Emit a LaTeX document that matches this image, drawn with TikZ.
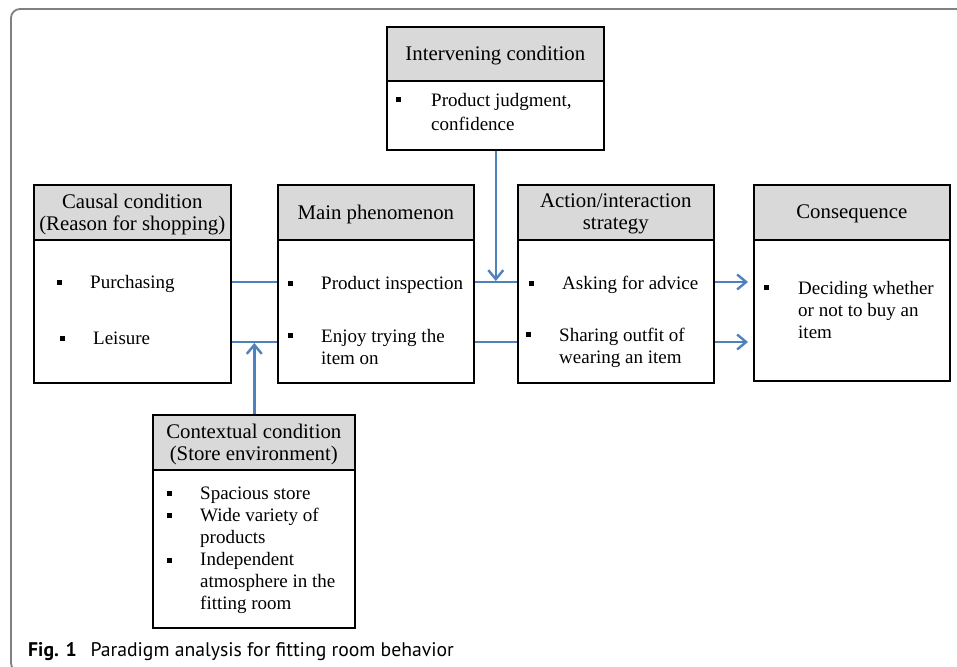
\documentclass[tikz,border=0pt]{standalone}
\usepackage{fontspec}
\setmainfont{Liberation Serif}
\newfontfamily\capfont{PT Sans}
\usetikzlibrary{arrows.meta,calc}
\definecolor{lnblue}{HTML}{4F81BD}
\definecolor{hdgray}{HTML}{D9D9D9}
\definecolor{frgray}{HTML}{808080}
\begin{document}
\begin{tikzpicture}[x=1pt,y=-1pt,
 hdr/.style={draw=black,line width=1.6pt,fill=hdgray,anchor=north west,inner sep=0pt},
 bodybox/.style={draw=black,line width=1.6pt,fill=white,anchor=north west,inner sep=0pt},
 htxt/.style={font=\fontsize{20.8}{22}\selectfont,align=center,inner sep=0pt,yshift=-2pt},
 btxt/.style={font=\fontsize{19}{22}\selectfont,align=left,anchor=base west,inner sep=0pt},
 bul/.style={fill=black,minimum size=5pt,inner sep=0pt},
 conn/.style={draw=lnblue,line width=2.4pt},
 arr/.style={conn,-{Straight Barb[length=9pt,width=15pt,line width=2.4pt]}}]
\useasboundingbox (0,0) rectangle (957,666);
\fill[white] (0,0) rectangle (957,666);
% frame
\draw[frgray,line width=1.8pt,rounded corners=9pt] (957,9) -- (11,9) -- (11,672) -- (30,672);

% Intervening
\node[hdr,minimum width=217pt,minimum height=54pt] (intervh) at (386,26) {};
\node[htxt] (intervt) at (intervh.center) {Intervening condition};
\node[bodybox,minimum width=217pt,minimum height=69pt] (interv) at (386,80) {};
\node[bul] (ib1) at (398,100) {};
\node[btxt,font=\fontsize{19}{24}\selectfont] (it1) at (431,130) {Product judgment,\\confidence};

% Causal
\node[hdr,minimum width=197pt,minimum height=55pt] (causalh) at (33,184) {};
\node[htxt] (causalt) at (causalh.center) {Causal condition\\(Reason for shopping)};
\node[bodybox,minimum width=197pt,minimum height=143pt] (causal) at (33,239) {};
\node[bul] (cb1) at (59,282) {};
\node[btxt] (ct1) at (90,288) {Purchasing};
\node[bul] (cb2) at (62,338) {};
\node[btxt] (ct2) at (93,344) {Leisure};

% Main
\node[hdr,minimum width=196pt,minimum height=55pt] (mainh) at (277,184) {};
\node[htxt] (maint) at (mainh.center) {Main phenomenon};
\node[bodybox,minimum width=196pt,minimum height=143pt] (main) at (277,239) {};
\node[bul] (mb1) at (290,283) {};
\node[btxt] (mt1) at (321,289) {Product inspection};
\node[bul] (mb2) at (290,335) {};
\node[btxt] (mt2) at (321,364) {Enjoy trying the\\item on};

% Action
\node[hdr,minimum width=196pt,minimum height=55pt] (actionh) at (517,184) {};
\node[htxt] (actiont) at (actionh.center) {Action/interaction\\strategy};
\node[bodybox,minimum width=196pt,minimum height=143pt] (action) at (517,239) {};
\node[bul] (ab1) at (531,283) {};
\node[btxt] (at1) at (562,289) {Asking for advice};
\node[bul] (ab2) at (528,334) {};
\node[btxt] (at2) at (559,363) {Sharing outfit of\\wearing an item};

% Consequence
\node[hdr,minimum width=196pt,minimum height=55pt] (conseqh) at (753,184) {};
\node[htxt] (conseqt) at (conseqh.center) {Consequence};
\node[bodybox,minimum width=196pt,minimum height=141pt] (conseq) at (753,239) {};
\node[bul] (qb1) at (766,287) {};
\node[btxt] (qt1) at (798,338) {Deciding whether\\or not to buy an\\item};

% Contextual
\node[hdr,minimum width=202pt,minimum height=55pt] (ctxh) at (152,414) {};
\node[htxt] (ctxt) at (ctxh.center) {Contextual condition\\(Store environment)};
\node[bodybox,minimum width=202pt,minimum height=158pt] (ctx) at (152,469) {};
\node[bul] (xb1) at (169,493) {};
\node[bul] (xb2) at (169,515) {};
\node[bul] (xb3) at (169,560) {};
\node[btxt,font=\fontsize{19}{22}\selectfont] (xt) at (200,609) {Spacious store\\Wide variety of\\products\\Independent\\atmosphere in the\\fitting room};

% connectors
\coordinate (r1) at (0,282);
\coordinate (r2) at (0,342);
\coordinate (gx) at ($(main.east)!0.5!(action.west)$);
\coordinate (cx) at ($(causal.east)!0.5!(main.west)$);
\draw[conn] (causal.east |- r1) -- (main.west |- r1);
\draw[conn] (causal.east |- r2) -- (main.west |- r2);
\draw[conn] (main.east |- r1) -- (action.west |- r1);
\draw[conn] (main.east |- r2) -- (action.west |- r2);
\draw[arr,shorten >=5pt] (action.east |- r1) -- (conseq.west |- r1);
\draw[arr,shorten >=5pt] (action.east |- r2) -- (conseq.west |- r2);
\draw[arr,shorten >=1pt] (interv.south -| gx) -- (gx |- r1);
\draw[arr,shorten >=1pt] (ctxh.north -| cx) -- (cx |- r2);

% caption
\node[anchor=base west,inner sep=0pt,font=\capfont\fontsize{19.7}{22}\selectfont] (cap) at (28,656) {\textbf{Fig. 1}\hspace{0.7em}Paradigm analysis for fitting room behavior};
\end{tikzpicture}
\end{document}
